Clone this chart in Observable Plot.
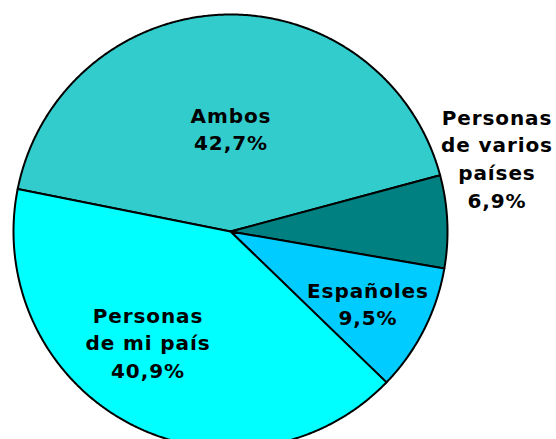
<!DOCTYPE html>
<html><head><meta charset="utf-8">
<script src="https://cdn.jsdelivr.net/npm/d3@7"></script>
<script src="https://cdn.jsdelivr.net/npm/@observablehq/plot@0.6"></script>
<style>
html,body{margin:0;padding:0;background:#fff}
#chart svg{display:block}
#chart text{letter-spacing:0.9px}
</style>
</head><body><div id="chart"></div>
<script>
// ---- data ----
const categories = ["Ambos", "Personas de varios países", "Españoles", "Personas de mi país"];
const labelLines = [["Ambos"], ["Personas", "de varios", "países"], ["Españoles"], ["Personas", "de mi país"]];
const values = [42.7, 6.9, 9.5, 40.9];
const colors = ["#33CCCC", "#008080", "#00CCFF", "#00FFFF"];

// ---- layout (pixels) ----
const W = 556, H = 439;
const cx = 230, cy = 231, R = 217;
const startDeg = -78.72;
const labelAnchor = [[230, 117], [496, 119], [367, 292], [147, 317]]; // first-line baseline
const fontSize = 20;

const pie = d3.pie().sort(null).value(d => d.value)
  .startAngle(startDeg * Math.PI / 180)
  .endAngle((startDeg + 360) * Math.PI / 180);
const rows = categories.map((c, i) => ({cat: c, value: values[i]}));
const arcs = pie(rows);

// polygon outline of each slice, in units centered on the pie (y up)
const pts = [];
for (const a of arcs) {
  const n = Math.max(2, Math.ceil((a.endAngle - a.startAngle) / (0.4 * Math.PI / 180)));
  pts.push({cat: a.data.cat, x: 0, y: 0});
  for (let k = 0; k <= n; k++) {
    const t = a.startAngle + (a.endAngle - a.startAngle) * k / n;
    pts.push({cat: a.data.cat, x: R * Math.sin(t), y: R * Math.cos(t)});
  }
  pts.push({cat: a.data.cat, x: 0, y: 0});
}

const fmt = v => v.toFixed(1).replace(".", ",") + "%";
const texts = categories.map((c, i) => ({
  text: [...labelLines[i], fmt(values[i])].join("\n"),
  x: labelAnchor[i][0] - cx,
  y: cy - (labelAnchor[i][1] - 0.71 * fontSize)
}));

const chart = Plot.plot({
  width: W, height: H,
  margin: 0,
  x: {domain: [-cx, W - cx], axis: null},
  y: {domain: [cy - H, cy], axis: null},
  color: {type: "ordinal", domain: categories, range: colors},
  style: {background: "#fff"},
  marks: [
    Plot.line(pts, {x: "x", y: "y", z: "cat", fill: "cat", stroke: "#000", strokeWidth: 2, strokeLinejoin: "round"}),
    Plot.text(texts, {x: "x", y: "y", text: "text", lineAnchor: "top", lineHeight: 1.38,
      fontSize: fontSize, fontWeight: "bold", fontFamily: "DejaVu Sans", fill: "#000", textAnchor: "middle", dx: 0.45})
  ]
});
document.getElementById("chart").appendChild(chart);
</script>
</body></html>
